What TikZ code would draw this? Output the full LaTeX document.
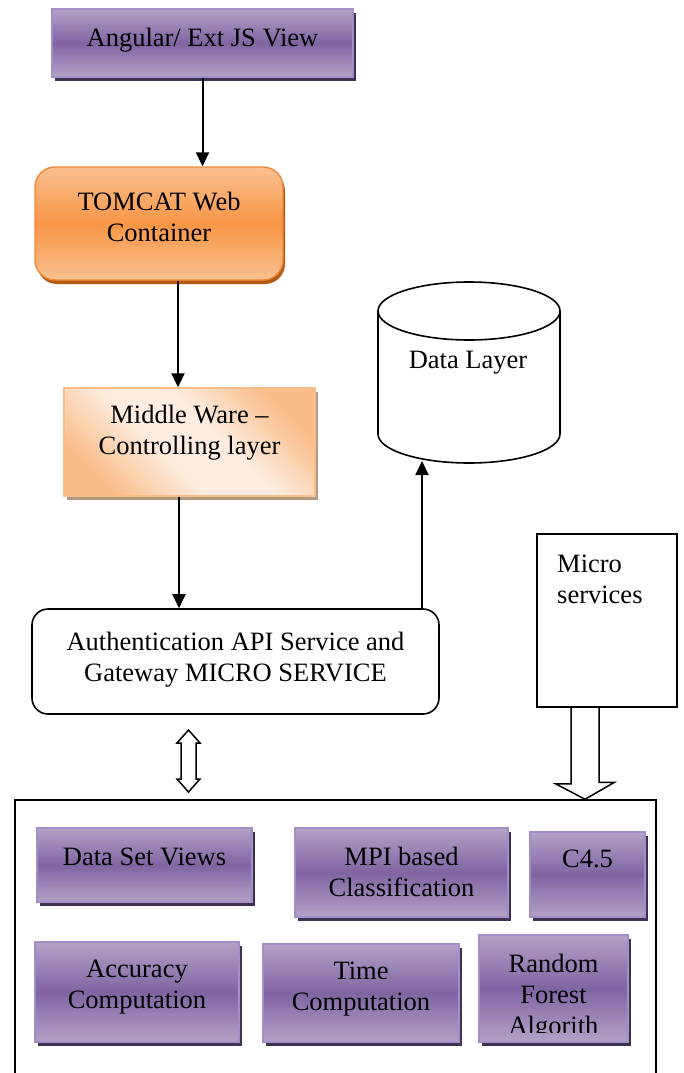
\documentclass[tikz,border=0pt]{standalone}
\usepackage{fontspec}
\setmainfont{Liberation Serif}
\usetikzlibrary{arrows.meta,shadows}
\definecolor{ViewLight}{HTML}{B3A2C7}
\definecolor{ViewMid}{HTML}{8064A2}
\definecolor{ViewLine}{HTML}{A28FC6}
\definecolor{ViewShadow}{HTML}{3F3151}
\definecolor{TomLight}{HTML}{FAC090}
\definecolor{TomMid}{HTML}{F79646}
\definecolor{TomLine}{HTML}{EE8A3C}
\definecolor{TomShadow}{HTML}{B65A10}
\definecolor{MwEdge}{HTML}{F9BD8A}
\definecolor{MwPale}{HTML}{FDEDE0}
\definecolor{MwShadow}{HTML}{B09A84}
\pgfdeclareverticalshading{mwshade}{100bp}{color(0bp)=(MwEdge); color(25bp)=(MwEdge);
  color(43bp)=(MwPale); color(57bp)=(MwPale); color(75bp)=(MwEdge); color(100bp)=(MwEdge)}

\begin{document}
\begin{tikzpicture}[x=1pt,y=-1pt,
    txt/.style={font=\fontsize{26.5}{31}\selectfont, align=center, inner sep=0pt},
    viewbox/.style={draw=ViewLine, line width=1.6pt, top color=ViewLight, bottom color=ViewLight,
      middle color=ViewMid, drop shadow={shadow xshift=3pt, shadow yshift=-4pt, fill=ViewShadow, opacity=1}},
    tomcatbox/.style={draw=TomLine, line width=1.4pt, rounded corners=20pt, top color=TomLight,
      bottom color=TomLight, middle color=TomMid,
      drop shadow={shadow xshift=2pt, shadow yshift=-4pt, fill=TomShadow, opacity=1}},
    mwbox/.style={draw=MwEdge, line width=1.4pt, shading=mwshade, shading angle=-45,
      drop shadow={shadow xshift=3pt, shadow yshift=-4pt, fill=MwShadow, opacity=1}},
    authbox/.style={draw, line width=1.6pt, rounded corners=16pt, fill=white},
    plainbox/.style={draw, line width=1.5pt},
    hollow/.style={line width=1.5pt, line join=miter},
    arr/.style={line width=2pt, -{Triangle[length=14pt,width=13pt]}}]
  \clip (0,0) rectangle (683,1073);
  \fill[white] (0,0) rectangle (683,1073);

  % upper chain
  \node[viewbox, minimum width=301pt, minimum height=68pt] (view) at (202.5,43) {};
  \node[txt] (viewt) at (202.5,40) {Angular/ Ext JS View};
  \node[tomcatbox, minimum width=248pt, minimum height=113pt] (tomcat) at (159,223.5) {};
  \node[txt] (tomcatt) at (159,217) {TOMCAT Web\\Container};
  \node[mwbox, minimum width=251pt, minimum height=108pt] (mw) at (189.5,442) {};
  \node[txt] (mwt) at (189.5,433) {Middle Ware --\\Controlling layer};
  \node[authbox, minimum width=407pt, minimum height=105pt] (auth) at (235.5,661.5) {};
  \node[txt] (autht) at (235.5,660) {Authentication API Service and\\Gateway MICRO SERVICE};

  % data layer
  \draw[line width=1.6pt] (469,311) ellipse [x radius=91, y radius=29];
  \draw[line width=1.6pt] (378,311) -- (378,434) arc[start angle=180, end angle=0, x radius=91, y radius=29] -- (560,311);
  \node[txt] (data) at (468,363) {Data Layer};
  \coordinate (datain) at (422,461);

  % micro services
  \node[plainbox, minimum width=140pt, minimum height=173pt] (micro) at (607,620.5) {};
  \node[txt, align=left, anchor=west] (microt) at (557,579) {Micro\\services};

  % service container
  \node[plainbox, minimum width=641pt, minimum height=290pt] (core) at (335.5,945) {};
  \foreach \nm/\cx/\cy/\w/\h in {dsv/144.5/865/215/74, mpi/401.5/872.5/213/89, c45/587.5/874.5/115/85,
      acc/137/992/204/100, tim/361/993/196/98, rf/553.5/988.5/149/107}
    \node[viewbox, minimum width=\w pt, minimum height=\h pt] (\nm) at (\cx,\cy) {};
  \node[txt] (dsvt) at (144.5,857) {Data Set Views};
  \node[txt] (mpit) at (401.5,871.5) {MPI based\\Classification};
  \node[txt] (c45t) at (587.5,859) {C4.5};
  \node[txt] (acct) at (137,987) {Accuracy\\Computation};
  \node[txt] (timt) at (361,989) {Time\\Computation};
  \begin{scope}
    \clip (rf.north west) rectangle ([yshift=10pt]rf.south east);
    \node[txt] (rft) at (553.5,997) {Random\\Forest\\Algorith};
  \end{scope}

  % connectors
  \draw[arr] (view.south) -- (view.south |- tomcat.north);
  \draw[arr] (178,0 |- tomcat.south) -- (178,0 |- mw.north);
  \draw[arr] (179,0 |- mw.south) -- (179,0 |- auth.north);
  \draw[arr] (datain |- auth.north) -- (datain);

  \coordinate (swap) at (188.5,730);
  \draw[hollow] (swap) -- ++(11.5,13) -- ++(-4,0) -- ++(0,36) -- ++(4,0) -- ++(-11.5,13)
    -- ++(-11.5,-13) -- ++(4,0) -- ++(0,-36) -- ++(-4,0) -- cycle;

  \coordinate (feed) at ([xshift=-22pt]micro.south);
  \draw[hollow] ([xshift=-14pt]feed) -- ++(0,76) -- ++(-15.5,0) -- (feed |- core.north)
    -- ++(29.5,-17) -- ++(-15.5,0) -- ++(0,-76);
\end{tikzpicture}
\end{document}
